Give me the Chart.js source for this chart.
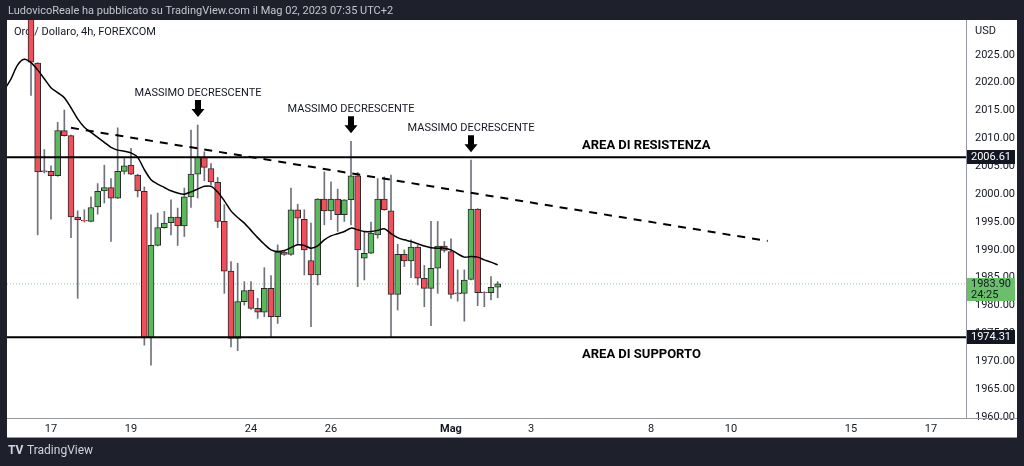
<!DOCTYPE html>
<html>
<head>
<meta charset="utf-8">
<script src="https://cdn.jsdelivr.net/npm/chart.js@4.4.0/dist/chart.umd.min.js"></script>
<style>
  html, body { margin: 0; padding: 0; background: #1e212b; }
  #chart { display: block; }
</style>
</head>
<body>
<canvas id="chart" width="1024" height="466"></canvas>
<script>
// 4h candles, index 0 = first candle of 17 April (6 candles per trading day)
const firstCandle = -3;
const opens  = [2033.5, 2023.5, 2004.2, 2004.1, 2003.3, 2011.4, 2010.5, 1995.9, 1995.3, 1995.1,
                1997.7, 2000.6, 2001.2, 1999.3, 2004.1, 2005.2, 2003.4, 2000.5, 1974.2, 1990.8,
                1994.0, 1994.9, 1995.9, 1994.3, 1999.5, 2003.6, 2006.6, 2004.6, 2002.1, 1995.1,
                1986.2, 1974.1, 1980.7, 1982.8, 1979.5, 1978.8, 1983.1, 1978.0, 1989.6, 1989.2,
                1997.2, 1995.5, 1988.1, 1985.5, 1999.1, 1997.0, 1999.1, 1996.3, 1999.0, 2003.3,
                1988.5, 1989.4, 1992.7, 1999.1, 1997.0, 1982.0, 1989.2, 1988.0, 1990.5, 1984.9,
                1983.1, 1986.7, 1990.7, 1989.7, 1982.3, 1982.2, 1984.7, 1997.3, 1982.4, 1982.3,
                1983.3];
const highs  = [2035.0, 2023.6, 2008.0, 2005.1, 2012.9, 2015.1, 2010.6, 1997.0, 1997.2, 1999.5,
                2001.9, 2005.2, 2002.8, 2011.9, 2006.4, 2008.2, 2003.6, 2001.3, 1996.3, 1996.6,
                1996.9, 1999.0, 1997.5, 2001.1, 2011.5, 2012.4, 2007.6, 2005.5, 2003.0, 1998.1,
                1987.9, 1987.6, 1984.3, 1984.3, 1981.3, 1986.8, 1985.4, 1990.9, 1989.8, 2001.1,
                1998.2, 1997.2, 1994.8, 1999.2, 2004.0, 2002.2, 2000.9, 1999.0, 2009.5, 2003.9,
                1993.3, 1995.0, 2002.8, 2003.1, 2003.4, 1991.0, 1990.0, 1991.8, 1990.8, 1987.2,
                1995.1, 1995.1, 1991.5, 1992.0, 1986.4, 1986.4, 2006.1, 1997.4, 1982.5, 1985.2,
                1984.3];
const lows   = [2017.7, 1992.7, 2003.8, 1995.5, 2003.2, 2010.4, 1992.2, 1981.3, 1995.0, 1995.0,
                1996.4, 1998.4, 1991.5, 1999.2, 2003.6, 2003.5, 1999.5, 1972.9, 1969.3, 1990.7,
                1993.9, 1992.7, 1990.8, 1992.4, 1997.6, 1999.3, 2002.4, 2001.6, 1994.0, 1982.2,
                1972.6, 1971.9, 1980.1, 1979.3, 1977.7, 1978.0, 1974.4, 1976.8, 1989.0, 1989.0,
                1990.9, 1985.5, 1976.2, 1983.7, 1994.5, 1995.4, 1993.3, 1995.1, 1994.5, 1983.4,
                1984.6, 1989.3, 1992.1, 1997.1, 1974.4, 1979.2, 1987.0, 1985.0, 1983.7, 1979.8,
                1976.4, 1982.2, 1989.6, 1981.3, 1980.8, 1977.2, 1984.6, 1980.0, 1979.8, 1981.0,
                1981.4];
const closes = [2023.7, 2004.0, 2004.0, 2003.3, 2011.4, 2010.5, 1995.9, 1995.4, 1995.2, 1997.6,
                2000.5, 2001.2, 1999.3, 2004.1, 2005.1, 2003.6, 2000.6, 1974.2, 1990.8, 1994.0,
                1994.8, 1995.9, 1994.3, 1999.5, 2003.6, 2006.6, 2004.8, 2002.2, 1995.1, 1986.2,
                1974.1, 1980.7, 1982.7, 1979.5, 1978.8, 1983.1, 1978.0, 1989.6, 1989.2, 1997.2,
                1995.7, 1990.0, 1985.5, 1999.1, 1997.0, 1999.1, 1996.3, 1999.0, 2003.3, 1990.0,
                1989.4, 1993.0, 1999.1, 1997.2, 1982.0, 1989.2, 1988.0, 1990.5, 1984.9, 1983.1,
                1986.7, 1990.7, 1989.9, 1982.0, 1982.1, 1984.6, 1997.3, 1982.3, 1982.3, 1983.3,
                1983.9];

// moving average, starting at index -7
const maStart = -7;
const maValues = [2018.7, 2020.7, 2023.2, 2024.2, 2023.6, 2022.3, 2020.7, 2019.1, 2018.2, 2017.3,
                  2015.5, 2013.5, 2012.0, 2011.1, 2010.2, 2009.3, 2008.4, 2007.9, 2007.7, 2007.4,
                  2006.6, 2004.4, 2002.6, 2001.8, 2001.2, 2000.6, 2000.2, 2000.0, 2000.4, 2000.9,
                  2001.4, 2001.4, 2000.4, 1998.8, 1997.0, 1995.8, 1994.8, 1993.5, 1992.2, 1991.0,
                  1990.0, 1989.7, 1989.9, 1990.4, 1990.9, 1990.8, 1990.3, 1990.7, 1991.8, 1992.5,
                  1992.9, 1993.3, 1993.9, 1993.6, 1993.3, 1993.3, 1993.5, 1993.8, 1992.9, 1992.2,
                  1991.8, 1991.5, 1991.1, 1990.7, 1990.4, 1990.3, 1990.3, 1990.0, 1989.3, 1988.7,
                  1988.8, 1988.7, 1988.2, 1987.8, 1987.3];

// falling trend line (dashed)
const trendX = [3, 107.5];
const trendY = [2011.9, 1991.6];

const resistance = 2006.61;
const support = 1974.31;
const lastPrice = 1983.90;
const countdown = "24:25";

const peakIdx = [22, 45, 63];
const peakText = "MASSIMO DECRESCENTE";
const zoneIdx = 79.65;
const zoneLabels = ["AREA DI RESISTENZA", "AREA DI SUPPORTO"];

const dayTicks = [0, 12, 30, 42, 60, 72, 90, 102, 120, 132];
const dayLabels = ["17", "19", "24", "26", "Mag", "3", "8", "10", "15", "17"];
const priceTicks = [1960, 1965, 1970, 1975, 1980, 1985, 1990, 1995, 2000, 2005, 2010, 2015, 2020, 2025];

const xMin = -6.6, xMax = 137.25;
const yMin = 1959.83, yMax = 2031.25;

const FONT = 'Roboto, "Noto Sans", sans-serif';
const upColor = "#5cb85c";
const downColor = "#f0505c";

const idx = opens.map((o, k) => firstCandle + k);
const candleColor = (k) => closes[k] >= opens[k] ? upColor : downColor;

const bodies = idx.map((x, k) => ({ x: x, y: [opens[k], closes[k]] }));
const wicks = idx.map((x, k) => ({ x: x, y: [lows[k], highs[k]] }));
const ma = maValues.map((v, k) => ({ x: maStart + k, y: v }));
const flat = (v) => [{ x: xMin, y: v }, { x: xMax, y: v }];

const frame = {
  id: "frame",
  beforeDraw(chart) {
    const ctx = chart.ctx;
    ctx.save();
    ctx.fillStyle = "#1e212b";
    ctx.fillRect(0, 0, 1024, 466);
    ctx.fillStyle = "#ffffff";
    ctx.fillRect(7, 20, 1010, 418);
    ctx.fillStyle = "#c3c6cd";
    ctx.font = "11px " + FONT;
    ctx.textBaseline = "middle";
    ctx.fillText("LudovicoReale ha pubblicato su TradingView.com il Mag 02, 2023 07:35 UTC+2", 8, 11);
    ctx.fillStyle = "#d1d4dc";
    ctx.font = "bold 12px " + FONT;
    ctx.fillText("TV", 8, 451);
    ctx.font = "12px " + FONT;
    ctx.fillText("TradingView", 27, 451);
    ctx.restore();
  },
  beforeDatasetsDraw(chart) {
    const ctx = chart.ctx;
    ctx.save();
    ctx.fillStyle = "#131722";
    ctx.font = "11px " + FONT;
    ctx.textBaseline = "middle";
    ctx.fillText("Oro / Dollaro, 4h, FOREXCOM", 14, 32);
    ctx.restore();
  },
  afterDraw(chart) {
    const ctx = chart.ctx;
    const x = chart.scales.x, y = chart.scales.y;
    const area = chart.chartArea;
    ctx.save();
    // separators
    ctx.strokeStyle = "#9598a1";
    ctx.lineWidth = 1;
    ctx.beginPath();
    ctx.moveTo(7, area.bottom + 0.5); ctx.lineTo(1017, area.bottom + 0.5);
    ctx.moveTo(7, 437.5); ctx.lineTo(1017, 437.5);
    ctx.stroke();

    ctx.fillStyle = "#131722";
    ctx.font = "11px " + FONT;
    ctx.textBaseline = "middle";
    ctx.fillText("USD", 975, 31);

    // level boxes on the price axis
    [resistance, support].forEach((v) => {
      const py = Math.round(y.getPixelForValue(v));
      ctx.fillStyle = "#131722";
      ctx.fillRect(area.right + 1, py - 7, 48, 14);
      ctx.fillStyle = "#ffffff";
      ctx.fillText(v.toFixed(2), area.right + 5, py + 0.5);
    });
    const lp = Math.round(y.getPixelForValue(lastPrice));
    ctx.fillStyle = "#6abf69";
    ctx.fillRect(area.right + 1, lp - 6, 48, 23);
    ctx.fillStyle = "#131722";
    ctx.fillText(lastPrice.toFixed(2), area.right + 5, lp);
    ctx.fillText(countdown, area.right + 5, lp + 11);

    // arrows + text over the falling highs
    ctx.textAlign = "center";
    peakIdx.forEach((i) => {
      const px = Math.round(x.getPixelForValue(i));
      const tip = y.getPixelForValue(highs[i - firstCandle]) - 8;
      ctx.fillStyle = "#000000";
      ctx.beginPath();
      ctx.moveTo(px - 3, tip - 17);
      ctx.lineTo(px + 3, tip - 17);
      ctx.lineTo(px + 3, tip - 8);
      ctx.lineTo(px + 6.5, tip - 8);
      ctx.lineTo(px, tip);
      ctx.lineTo(px - 6.5, tip - 8);
      ctx.lineTo(px - 3, tip - 8);
      ctx.closePath();
      ctx.fill();
      ctx.fillStyle = "#131722";
      ctx.font = "11px " + FONT;
      ctx.fillText(peakText, px, tip - 24);
    });

    ctx.textAlign = "left";
    ctx.fillStyle = "#000000";
    ctx.font = "bold 13px " + FONT;
    const zx = x.getPixelForValue(zoneIdx);
    ctx.fillText(zoneLabels[0], zx, y.getPixelForValue(resistance) - 12);
    ctx.fillText(zoneLabels[1], zx, y.getPixelForValue(support) + 17);
    ctx.restore();
  }
};

new Chart(document.getElementById("chart"), {
  type: "bar",
  data: {
    datasets: [
      {
        type: "line", data: ma, borderColor: "#000000", borderWidth: 1.5,
        pointRadius: 0, tension: 0.3, order: 1
      },
      {
        type: "line", data: trendX.map((v, k) => ({ x: v, y: trendY[k] })),
        borderColor: "#000000", borderWidth: 2, borderDash: [8, 7], pointRadius: 0, order: 1
      },
      {
        type: "line", data: flat(resistance), borderColor: "#000000", borderWidth: 2,
        pointRadius: 0, order: 1
      },
      {
        type: "line", data: flat(support), borderColor: "#000000", borderWidth: 2,
        pointRadius: 0, order: 1
      },
      {
        type: "line", data: flat(lastPrice), borderColor: "#8fcf8f", borderWidth: 1,
        borderDash: [1, 2], pointRadius: 0, order: 6
      },
      {
        data: bodies, grouped: false, barThickness: 6, borderWidth: 1, borderSkipped: false,
        backgroundColor: (c) => candleColor(c.dataIndex), borderColor: "#2b2b2b", order: 3
      },
      {
        data: wicks, grouped: false, barThickness: 1, borderWidth: 0,
        backgroundColor: "#6f727a", order: 4
      }
    ]
  },
  options: {
    responsive: false,
    animation: false,
    events: [],
    layout: { padding: { left: 7, top: 20, right: 7, bottom: 28 } },
    plugins: { legend: { display: false }, tooltip: { enabled: false } },
    scales: {
      x: {
        type: "linear", min: xMin, max: xMax, offset: false,
        grid: { display: false, drawTicks: false, offset: false },
        border: { display: true, color: "#9598a1" },
        afterBuildTicks: (s) => { s.ticks = dayTicks.map((v) => ({ value: v })); },
        afterFit: (s) => { s.height = 20; },
        ticks: {
          autoSkip: false, maxRotation: 0, padding: 5, color: "#131722",
          font: (c) => ({ family: FONT, size: 11, weight: c.tick && c.tick.value === 60 ? "bold" : "normal" }),
          callback: (v) => dayLabels[dayTicks.indexOf(v)]
        }
      },
      y: {
        position: "right", min: yMin, max: yMax,
        grid: { display: false, drawTicks: false },
        border: { display: true, color: "#9598a1" },
        afterBuildTicks: (s) => { s.ticks = priceTicks.map((v) => ({ value: v })); },
        afterFit: (s) => { s.width = 51; },
        ticks: {
          padding: 9, color: "#131722", font: { family: FONT, size: 11 },
          callback: (v) => v.toFixed(2)
        }
      }
    }
  },
  plugins: [frame]
});
</script>
</body>
</html>
